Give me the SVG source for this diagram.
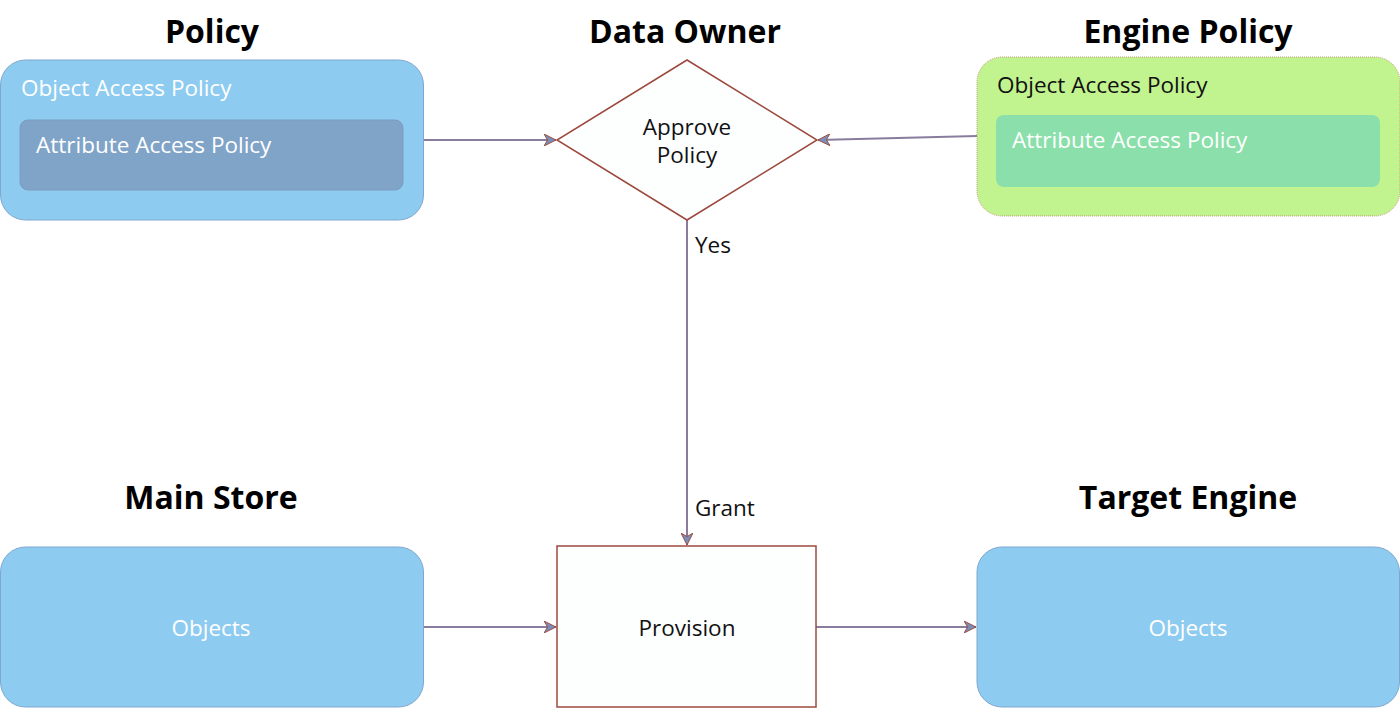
<svg xmlns="http://www.w3.org/2000/svg" width="1400" height="708" viewBox="0 0 1400 708">
<defs>
<style>
.title{font-family:"Open Sans","DejaVu Sans",sans-serif;font-weight:bold;font-size:32px;fill:#000;text-anchor:middle}
.lbl{font-family:"Open Sans","DejaVu Sans",sans-serif;font-size:22.5px}
.w{fill:#fff}
.k{fill:#111}
.blue{fill:#8ecbf0;stroke:#7fa8d0;stroke-width:1}
.conn{stroke:#8a7c9c;stroke-width:2;fill:none;marker-end:url(#ah)}
.shape{fill:#fdfefe;stroke:#9c4a3e;stroke-width:1.5}
</style>
<marker id="ah" viewBox="0 0 10 10" refX="10" refY="5" markerWidth="6" markerHeight="6" orient="auto" markerUnits="strokeWidth">
<path d="M0,0 L10,5 L0,10 L3,5 Z" fill="#7a8fb8" stroke="#9c4a3e" stroke-width="0.8"/>
</marker>
</defs>
<rect width="1400" height="708" fill="#fff"/>
<g id="connectors">
<line class="conn" x1="423" y1="140" x2="556" y2="140"/>
<line class="conn" x1="977" y1="136" x2="818" y2="140"/>
<line class="conn" x1="687" y1="220" x2="687" y2="545"/>
<line class="conn" x1="423" y1="627" x2="556" y2="627"/>
<line class="conn" x1="816" y1="627" x2="976" y2="627"/>
<text class="lbl k" x="695" y="253">Yes</text>
<text class="lbl k" x="695" y="516">Grant</text>
</g>
<g id="policy">
<text class="title" x="212" y="43">Policy</text>
<rect class="blue" x="0.5" y="60" width="423" height="160" rx="25"/>
<text class="lbl w" x="21" y="96">Object Access Policy</text>
<rect x="20" y="120" width="383" height="70" rx="8" fill="#80a4c8" stroke="#7a9cc0"/>
<text class="lbl w" x="36" y="153">Attribute Access Policy</text>
</g>
<g id="data-owner">
<text class="title" x="685" y="43">Data Owner</text>
<polygon class="shape" points="687,60 817,140 687,220 557,140"/>
<text class="lbl k" x="687" y="135" text-anchor="middle">Approve</text>
<text class="lbl k" x="687" y="163" text-anchor="middle">Policy</text>
</g>
<g id="engine-policy">
<text class="title" x="1188" y="43">Engine Policy</text>
<rect x="977" y="57" width="423" height="159" rx="25" fill="#c1f38f" stroke="#c08070" stroke-width="0.8" stroke-dasharray="1 1"/>
<text class="lbl k" x="997" y="93">Object Access Policy</text>
<rect x="996" y="115" width="384" height="72" rx="8" fill="#8adfaa"/>
<text class="lbl w" x="1012" y="148">Attribute Access Policy</text>
</g>
<g id="main-store">
<text class="title" x="211" y="509">Main Store</text>
<rect class="blue" x="0.5" y="547" width="423" height="160" rx="25"/>
<text class="lbl w" x="211" y="636" text-anchor="middle">Objects</text>
</g>
<g id="provision">
<rect class="shape" x="557" y="546" width="259" height="161"/>
<text class="lbl k" x="687" y="636" text-anchor="middle">Provision</text>
</g>
<g id="target-engine">
<text class="title" x="1188" y="509">Target Engine</text>
<rect class="blue" x="977" y="547" width="422.5" height="160" rx="25"/>
<text class="lbl w" x="1188" y="636" text-anchor="middle">Objects</text>
</g>
</svg>
